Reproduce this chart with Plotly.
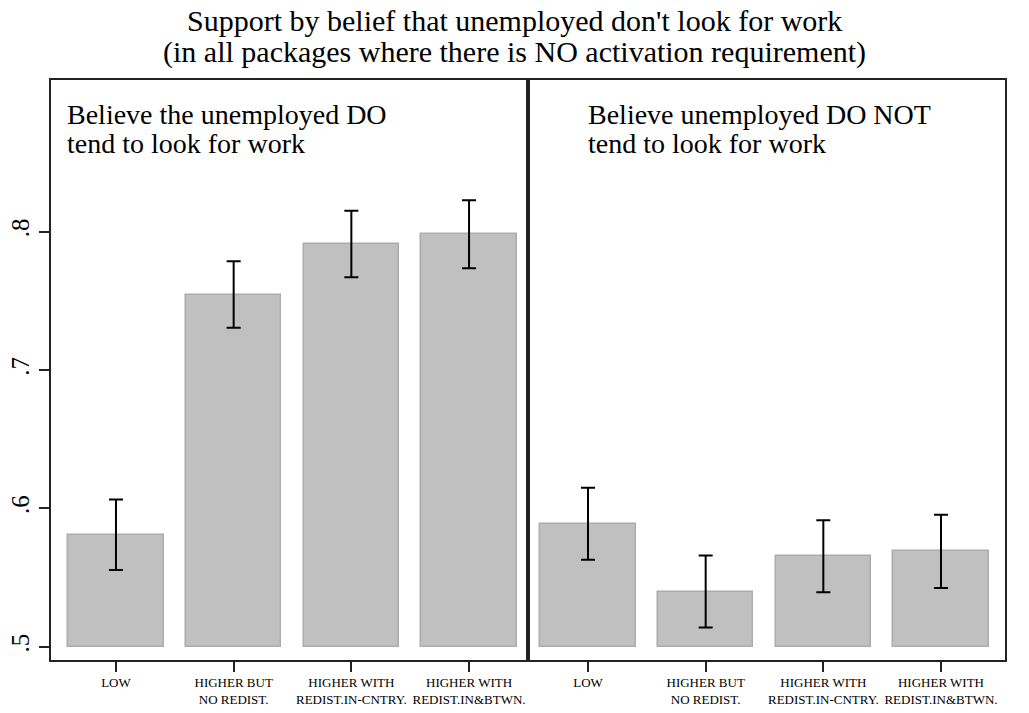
import plotly.graph_objects as go

categories = ["LOW", "HIGHER BUT<br>NO REDIST.", "HIGHER WITH<br>REDIST.IN-CNTRY.", "HIGHER WITH<br>REDIST.IN&BTWN."]
do_look_means = [0.581, 0.7545, 0.791, 0.798]
do_look_err = [0.0255, 0.024, 0.024, 0.0245]
dont_look_means = [0.589, 0.540, 0.5655, 0.569]
dont_look_err = [0.026, 0.026, 0.026, 0.0265]
panel_label_lines = [["Believe the unemployed DO", "tend to look for work"],
                     ["Believe unemployed DO NOT", "tend to look for work"]]
title_lines = ["Support by belief that unemployed don't look for work",
               "(in all packages where there is NO activation requirement)"]
ytick_vals = [0.5, 0.6, 0.7, 0.8]
ytick_text = [".5", ".6", ".7", ".8"]

FONT = "Liberation Serif, Times New Roman, serif"
BASE = 0.5
xpos = list(range(len(categories)))

fig = go.Figure()
for means, errs, xa, ya in [(do_look_means, do_look_err, "x", "y"),
                             (dont_look_means, dont_look_err, "x2", "y2")]:
    fig.add_trace(go.Bar(
        x=xpos, y=[m - BASE for m in means], base=BASE, width=0.81,
        marker=dict(color="#c0c0c0", line=dict(color="#acacac", width=1.5)),
        xaxis=xa, yaxis=ya, showlegend=False, hoverinfo="skip"))
    fig.add_trace(go.Scatter(
        x=xpos, y=means, mode="markers", marker=dict(size=0.1, color="rgba(0,0,0,0)"),
        error_y=dict(type="data", array=errs, visible=True, color="black", thickness=2, width=7),
        xaxis=xa, yaxis=ya, showlegend=False, hoverinfo="skip"))

yr = [0.4906, 0.9094]
axis_common = dict(showline=True, mirror=True, linecolor="#222222", linewidth=1.5,
                   showgrid=False, zeroline=False, automargin=False)
xtick_common = dict(tickmode="array", tickvals=xpos, ticktext=categories, ticks="outside",
                    ticklen=10, tickwidth=1.5, tickcolor="#222222",
                    tickfont=dict(family=FONT, size=13), tickangle=0)

annotations = []
for text, yp in zip(title_lines, [21, 52]):
    annotations.append(dict(text=text, xref="paper", yref="paper", x=(514.5 - 51) / 954,
                            y=(660 - yp) / 580, xanchor="center", yanchor="middle",
                            showarrow=False, borderpad=0,
                            font=dict(family=FONT, size=30, color="black")))
for lines, xp in zip(panel_label_lines, [66, 587]):
    for text, yp in zip(lines, [115, 143]):
        annotations.append(dict(text=text, xref="paper", yref="paper", x=(xp - 51) / 954,
                                y=(660 - yp) / 580, xanchor="left", yanchor="middle",
                                showarrow=False, borderpad=0,
                                font=dict(family=FONT, size=28, color="black")))

fig.update_layout(
    width=1029, height=713,
    margin=dict(l=51, r=24, t=80, b=53),
    paper_bgcolor="white", plot_bgcolor="white",
    font=dict(family=FONT, color="black"),
    bargap=0,
    xaxis=dict(domain=[0, 0.5], range=[-0.552, 3.501], **xtick_common, **axis_common),
    xaxis2=dict(domain=[0.5, 1], range=[-0.51, 3.544], anchor="y2", **xtick_common, **axis_common),
    yaxis=dict(range=yr, tickmode="array", tickvals=ytick_vals, ticktext=ytick_text,
               ticks="outside", ticklen=10, tickwidth=1.5, tickcolor="#222222",
               tickangle=-90, tickfont=dict(family=FONT, size=25),
               **axis_common),
    yaxis2=dict(range=yr, anchor="x2", matches="y", showticklabels=False, ticks="",
                **axis_common),
    annotations=annotations,
)

fig.write_html("out.html", config={"displayModeBar": False},
               post_script="document.body.style.margin='0';document.body.style.overflow='hidden';")
